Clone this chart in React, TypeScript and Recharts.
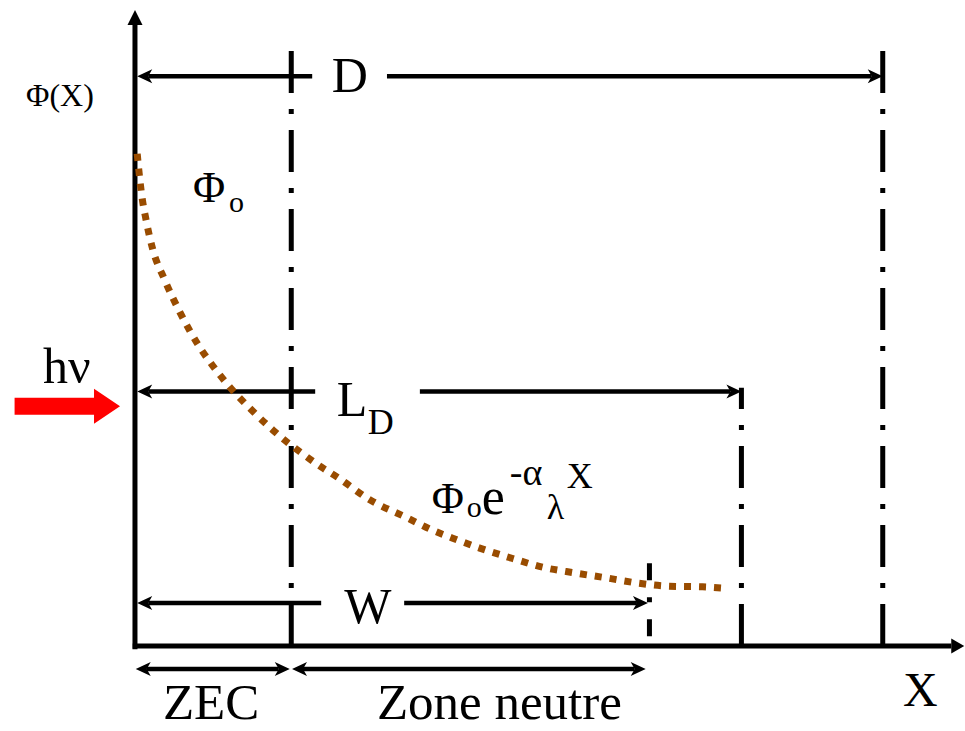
import React from "react";
import { ComposedChart, Line, ReferenceDot, ReferenceLine, XAxis, YAxis } from "recharts";

// depth (x) and photon flux (y), arbitrary units; D boundary sits at x = 10
const curveX = [0.03, 0.05, 0.07, 0.1, 0.14, 0.23, 0.4, 0.6, 0.87, 1.0, 1.27, 1.56, 1.84, 2.03, 2.21, 2.51, 2.7, 3.14, 3.65, 3.98, 4.24, 4.61, 5.04, 5.45, 5.88, 6.31, 6.72, 7.15, 7.59, 7.86];
const curveY = [7.74, 7.5, 7.28, 7.01, 6.75, 6.27, 5.75, 5.25, 4.69, 4.47, 4.07, 3.71, 3.4, 3.21, 3.05, 2.8, 2.66, 2.3, 2.01, 1.82, 1.7, 1.54, 1.38, 1.24, 1.15, 1.07, 0.99, 0.94, 0.93, 0.91];

// vertical boundaries: ZEC edge, W, L_D, D
const boundaryX = [2.09, 6.88, 8.11, 10.0];
const boundaryTop = [9.5, 1.3, 4.06, 9.5];

// length arrows measured from the surface (x = 0)
const lengthNames = ["D", "L", "W"];
const lengthEnd = [10.0, 8.11, 6.86];
const lengthLevel = [8.96, 4.0, 0.676];
const lengthGap: [number, number][] = [[2.37, 3.37], [2.41, 3.81], [2.49, 3.6]];

// zones under the axis
const zoneNames = ["ZEC", "Zone neutre"];
const zoneStart = [0.01, 2.1];
const zoneEnd = [2.07, 6.83];
const zoneLevel = -0.36;

const curve = curveX.map((x, i) => ({ x, y: curveY[i] }));

const serif = "'Liberation Serif', 'Times New Roman', serif";
const BROWN = "#994C00";

const headPoints = (tx: number, ty: number, ux: number, uy: number, len: number, half: number, notch: number) => {
  const nx = -uy;
  const ny = ux;
  const bx = tx - ux * len;
  const by = ty - uy * len;
  const mx = tx - ux * (len - notch);
  const my = ty - uy * (len - notch);
  return `${tx},${ty} ${bx + nx * half},${by + ny * half} ${mx},${my} ${bx - nx * half},${by - ny * half}`;
};

const Arrow = (props: any) => {
  const { x1, y1, x2, y2, start = false, end = true, width = 4.5, len = 15, half = 7, notch = 4 } = props;
  const d = Math.hypot(x2 - x1, y2 - y1) || 1;
  const ux = (x2 - x1) / d;
  const uy = (y2 - y1) / d;
  const inset = len - notch;
  return (
    <g>
      <line
        x1={start ? x1 + ux * inset : x1}
        y1={start ? y1 + uy * inset : y1}
        x2={end ? x2 - ux * inset : x2}
        y2={end ? y2 - uy * inset : y2}
        stroke="#000"
        strokeWidth={width}
        strokeLinecap="butt"
      />
      {start && <polygon points={headPoints(x1, y1, -ux, -uy, len, half, notch)} fill="#000" />}
      {end && <polygon points={headPoints(x2, y2, ux, uy, len, half, notch)} fill="#000" />}
    </g>
  );
};

// fat red arrow for the incoming light
const BlockArrow = (props: any) => {
  const { x1, y1, x2 } = props;
  const headLen = 26;
  const shaft = 8.5;
  const head = 17.5;
  const hx = x2 - headLen;
  const pts = [
    [x1, y1 - shaft],
    [hx, y1 - shaft],
    [hx, y1 - head],
    [x2, y1],
    [hx, y1 + head],
    [hx, y1 + shaft],
    [x1, y1 + shaft],
  ];
  return <polygon points={pts.map((p) => p.join(",")).join(" ")} fill="#FF0000" />;
};

const txt = (content: (cx: number, cy: number) => React.ReactElement) => (p: any) => content(p.cx, p.cy);

export default function App() {
  return (
    <div style={{ position: "absolute", left: 0, top: 0, background: "#fff" }}>
      <ComposedChart width={965} height={731} data={curve} margin={{ top: 0, right: 0, bottom: 0, left: 0 }}>
        <XAxis dataKey="x" type="number" domain={[-1.805, 11.1]} hide allowDataOverflow />
        <YAxis type="number" domain={[-1.336, 10.157]} hide allowDataOverflow />

        {/* boundaries */}
        {boundaryX.map((x, i) =>
          i === 1 ? (
            <ReferenceLine
              key={"b" + i}
              segment={[{ x, y: boundaryTop[i] }, { x, y: 0.1 }]}
              stroke="#000"
              strokeWidth={5}
              strokeDasharray="17 17 5 17"
            />
          ) : (
            <ReferenceLine
              key={"b" + i}
              segment={[{ x, y: 0 }, { x, y: boundaryTop[i] }]}
              stroke="#000"
              strokeWidth={5}
              strokeDasharray="42 16 5 16"
            />
          )
        )}

        {/* axes */}
        <ReferenceLine
          segment={[{ x: 0, y: -0.05 }, { x: 0, y: 10 }]}
          shape={(p: any) => <Arrow {...p} width={5} len={15} half={7.5} notch={0} />}
        />
        <ReferenceLine
          segment={[{ x: -0.03, y: 0 }, { x: 11.09, y: 0 }]}
          shape={(p: any) => <Arrow {...p} width={5} len={13} half={7.5} notch={0} />}
        />

        {/* length arrows, split around their labels */}
        {lengthNames.map((name, i) => (
          <ReferenceLine
            key={"la" + name}
            segment={[{ x: 0.03, y: lengthLevel[i] }, { x: lengthGap[i][0], y: lengthLevel[i] }]}
            shape={(p: any) => <Arrow {...p} start end={false} />}
          />
        ))}
        {lengthNames.map((name, i) => (
          <ReferenceLine
            key={"lb" + name}
            segment={[{ x: lengthGap[i][1], y: lengthLevel[i] }, { x: lengthEnd[i], y: lengthLevel[i] }]}
            shape={(p: any) => <Arrow {...p} />}
          />
        ))}

        {/* zone arrows */}
        {zoneNames.map((name, i) => (
          <ReferenceLine
            key={"z" + name}
            segment={[{ x: zoneStart[i], y: zoneLevel }, { x: zoneEnd[i], y: zoneLevel }]}
            shape={(p: any) => <Arrow {...p} start end />}
          />
        ))}

        {/* incoming light */}
        <ReferenceLine
          segment={[{ x: -1.61, y: 3.77 }, { x: -0.2, y: 3.77 }]}
          shape={(p: any) => <BlockArrow {...p} />}
        />

        <Line
          dataKey="y"
          type="monotone"
          stroke={BROWN}
          strokeWidth={7}
          strokeDasharray="7 8"
          dot={false}
          activeDot={false}
          isAnimationActive={false}
          zIndex={1000}
        />

        {/* labels */}
        <ReferenceDot
          x={-1.457}
          y={8.49}
          r={0}
          shape={txt((cx, cy) => (
            <text x={cx} y={cy} fontFamily={serif} fontSize={32}>Φ(X)</text>
          ))}
        />
        <ReferenceDot
          x={0.775}
          y={6.98}
          r={0}
          shape={txt((cx, cy) => (
            <g fontFamily={serif}>
              <text x={cx} y={cy} fontSize={44}>Φ</text>
              <text x={cx + 36} y={cy + 10} fontSize={30}>o</text>
            </g>
          ))}
        />
        <ReferenceDot
          x={2.874}
          y={8.71}
          r={0}
          shape={txt((cx, cy) => (
            <text x={cx} y={cy} textAnchor="middle" fontFamily={serif} fontSize={50}>{lengthNames[0]}</text>
          ))}
        />
        <ReferenceDot
          x={2.7}
          y={3.616}
          r={0}
          shape={txt((cx, cy) => (
            <g fontFamily={serif}>
              <text x={cx} y={cy} fontSize={50}>{lengthNames[1]}</text>
              <text x={cx + 31} y={cy + 18} fontSize={36}>D</text>
            </g>
          ))}
        />
        <ReferenceDot
          x={3.115}
          y={0.362}
          r={0}
          shape={txt((cx, cy) => (
            <text x={cx} y={cy} textAnchor="middle" fontFamily={serif} fontSize={50}>{lengthNames[2]}</text>
          ))}
        />
        <ReferenceDot
          x={-1.23}
          y={4.135}
          r={0}
          shape={txt((cx, cy) => (
            <text x={cx} y={cy} fontFamily={serif} fontSize={50}>hν</text>
          ))}
        />
        <ReferenceDot
          x={3.97}
          y={2.09}
          r={0}
          shape={txt((cx, cy) => (
            <g fontFamily={serif}>
              <text x={cx} y={cy} fontSize={44}>Φ</text>
              <text x={cx + 35} y={cy + 4} fontSize={30}>o</text>
              <text x={cx + 50} y={cy + 1} fontSize={52}>e</text>
              <text x={cx + 78} y={cy - 28} fontSize={38}>-α</text>
              <text x={cx + 115} y={cy + 6} fontSize={36}>λ</text>
              <text x={cx + 135} y={cy - 25} fontSize={36}>X</text>
            </g>
          ))}
        />
        {zoneNames.map((name, i) => (
          <ReferenceDot
            key={"zl" + name}
            x={i === 0 ? 0.374 : 3.235}
            y={-1.148}
            r={0}
            shape={txt((cx, cy) => (
              <text x={cx} y={cy} fontFamily={serif} fontSize={51}>{name}</text>
            ))}
          />
        ))}
        <ReferenceDot
          x={10.27}
          y={-0.943}
          r={0}
          shape={txt((cx, cy) => (
            <text x={cx} y={cy} fontFamily={serif} fontSize={48}>X</text>
          ))}
        />
      </ComposedChart>
    </div>
  );
}
